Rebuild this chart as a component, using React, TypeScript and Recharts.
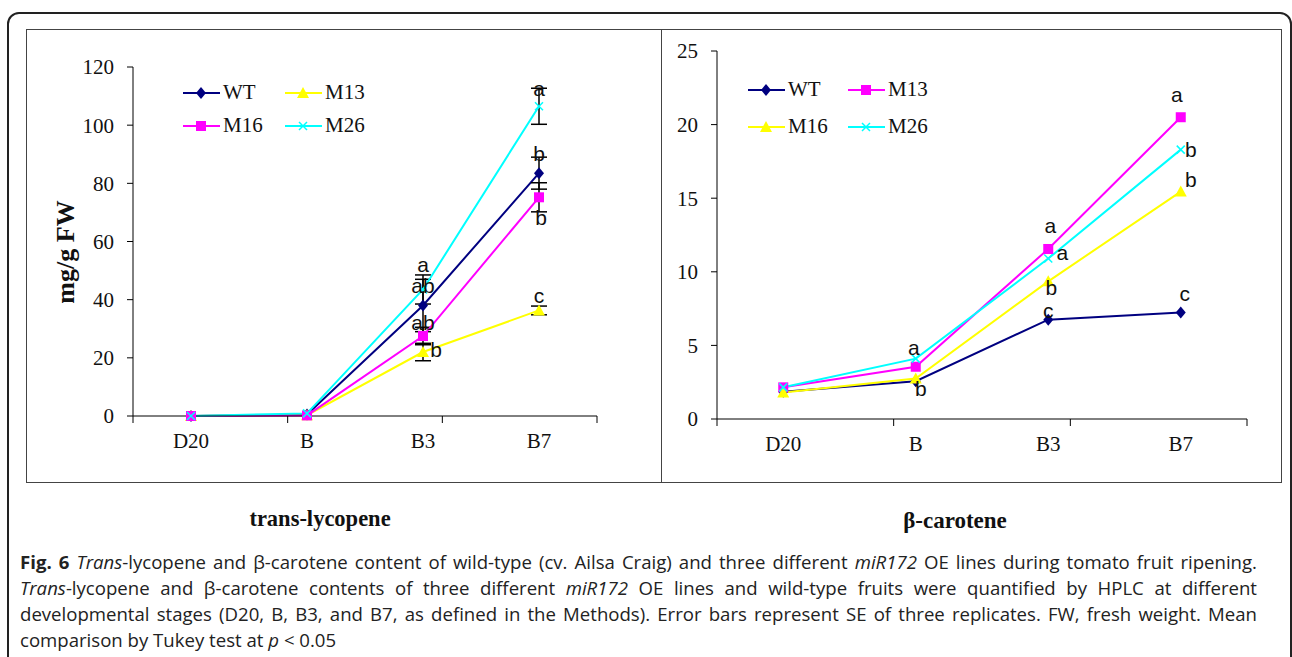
import { ErrorBar, LabelList, Legend, Line, LineChart, XAxis, YAxis } from "recharts";

const STAGES = ["D20", "B", "B3", "B7"];

// trans-lycopene, mg/g FW
const LYC_WT = [0, 0.5, 38, 83.5];
const LYC_M13 = [0, 0.3, 22, 36.3];
const LYC_M16 = [0, 0.2, 27.5, 75.2];
const LYC_M26 = [0, 0.9, 43.5, 106.5];
const LYC_WT_SE = [null, null, 9, 5.5];
const LYC_M13_SE = [null, null, 3, 1.5];
const LYC_M16_SE = [null, null, 3, 5];
const LYC_M26_SE = [null, null, 5, 6.2];
const LYC_WT_LETTERS = ["", "", "ab", "b"];
const LYC_M13_LETTERS = ["", "", "b", "c"];
const LYC_M16_LETTERS = ["", "", "ab", "b"];
const LYC_M26_LETTERS = ["", "", "a", "a"];
const LYC_TICKS = [0, 20, 40, 60, 80, 100, 120];

// beta-carotene
const CAR_WT = [1.85, 2.57, 6.75, 7.23];
const CAR_M13 = [2.15, 3.55, 11.55, 20.5];
const CAR_M16 = [1.8, 2.75, 9.35, 15.45];
const CAR_M26 = [2.15, 4.1, 10.9, 18.3];
const CAR_WT_LETTERS = ["", "b", "c", "c"];
const CAR_M13_LETTERS = ["", "", "a", "a"];
const CAR_M16_LETTERS = ["", "", "b", "b"];
const CAR_M26_LETTERS = ["", "a", "a", "b"];
const CAR_TICKS = [0, 5, 10, 15, 20, 25];

const NAVY = "#000080";
const MAGENTA = "#ff00ff";
const YELLOW = "#ffff00";
const CYAN = "#00ffff";
const SERIF = "'Liberation Serif', 'Times New Roman', serif";
const SANS = "'Liberation Sans', Arial, sans-serif";

type Shape = "diamond" | "square" | "triangle" | "cross";
type Series = {
  key: string;
  name: string;
  color: string;
  shape: Shape;
  values: number[];
  se?: (number | null)[];
  letters: string[];
  // where each letter sits relative to its point: [dx, dy]
  place: [number, number][];
};

const LYC_SERIES: Series[] = [
  { key: "WT", name: "WT", color: NAVY, shape: "diamond", values: LYC_WT, se: LYC_WT_SE, letters: LYC_WT_LETTERS,
    place: [[0, 0], [0, 0], [0, -20], [0, -20]] },
  { key: "M13", name: "M13", color: YELLOW, shape: "triangle", values: LYC_M13, se: LYC_M13_SE, letters: LYC_M13_LETTERS,
    place: [[0, 0], [0, 0], [13, -3], [0, -15]] },
  { key: "M16", name: "M16", color: MAGENTA, shape: "square", values: LYC_M16, se: LYC_M16_SE, letters: LYC_M16_LETTERS,
    place: [[0, 0], [0, 0], [0, -14], [2, 20]] },
  { key: "M26", name: "M26", color: CYAN, shape: "cross", values: LYC_M26, se: LYC_M26_SE, letters: LYC_M26_LETTERS,
    place: [[0, 0], [0, 0], [0, -25], [0, -18]] },
];

const CAR_SERIES: Series[] = [
  { key: "WT", name: "WT", color: NAVY, shape: "diamond", values: CAR_WT, letters: CAR_WT_LETTERS,
    place: [[0, 0], [5, 7], [0, -9], [4, -19]] },
  { key: "M13", name: "M13", color: MAGENTA, shape: "square", values: CAR_M13, letters: CAR_M13_LETTERS,
    place: [[0, 0], [0, 0], [2, -23], [-4, -23]] },
  { key: "M16", name: "M16", color: YELLOW, shape: "triangle", values: CAR_M16, letters: CAR_M16_LETTERS,
    place: [[0, 0], [0, 0], [3, 6], [10, -12]] },
  { key: "M26", name: "M26", color: CYAN, shape: "cross", values: CAR_M26, letters: CAR_M26_LETTERS,
    place: [[0, 0], [-2, -11], [14, -6], [10, 0]] },
];

const CAPTION_STYLE = {
  fontFamily: "'Open Sans', sans-serif",
  fontSize: 18.6,
  lineHeight: "26px",
  color: "#222",
  whiteSpace: "nowrap" as const,
};
const JUSTIFIED = { textAlign: "justify" as const, textAlignLast: "justify" as const, whiteSpace: "normal" as const };

function Marker({ cx, cy, shape, color }: { cx?: number; cy?: number; shape: Shape; color: string }) {
  if (cx == null || cy == null) return null;
  if (shape === "diamond")
    return <polygon points={`${cx},${cy - 6} ${cx + 5},${cy} ${cx},${cy + 6} ${cx - 5},${cy}`} fill={color} />;
  if (shape === "square") return <rect x={cx - 5} y={cy - 5} width={10} height={10} fill={color} />;
  if (shape === "triangle")
    return <polygon points={`${cx},${cy - 6} ${cx + 6},${cy + 5} ${cx - 6},${cy + 5}`} fill={color} />;
  return (
    <path
      d={`M${cx - 4},${cy - 4}L${cx + 4},${cy + 4}M${cx + 4},${cy - 4}L${cx - 4},${cy + 4}`}
      stroke={color}
      strokeWidth={1.5}
    />
  );
}

function LegendGrid({ series, colW, rowH }: { series: Series[]; colW: number; rowH: number }) {
  return (
    <div style={{ display: "grid", gridTemplateColumns: `${colW}px ${colW}px` }}>
      {series.map((s) => (
        <div key={s.key} style={{ display: "flex", alignItems: "center", height: rowH }}>
          <svg width={37} height={16}>
            <line x1={0} y1={8} x2={37} y2={8} stroke={s.color} strokeWidth={2} />
            <Marker cx={18} cy={8} shape={s.shape} color={s.color} />
          </svg>
          <span style={{ fontFamily: SERIF, fontSize: 21, color: "#111", marginLeft: 3 }}>{s.name}</span>
        </div>
      ))}
    </div>
  );
}

type PanelProps = {
  series: Series[];
  ticks: number[];
  width: number;
  height: number;
  margin: { top: number; right: number; left: number; bottom: number };
  yWidth: number;
  legend: { left: number; top: number; colW: number; rowH: number };
};

function Panel({ series, ticks, width, height, margin, yWidth, legend }: PanelProps) {
  const data = STAGES.map((stage, i) => {
    const row: Record<string, string | number | null> = { stage };
    series.forEach((s) => {
      row[s.key] = s.values[i];
      if (s.se) row[s.key + "_se"] = s.se[i];
    });
    return row;
  });

  return (
    <LineChart width={width} height={height} data={data} margin={margin}>
      {/* tick marks on the category boundaries, as in Excel */}
      <XAxis
        xAxisId={0}
        type="number"
        domain={[0, STAGES.length]}
        ticks={STAGES.map((_, i) => i).concat(STAGES.length)}
        tickFormatter={() => ""}
        tickSize={7}
        height={8}
        stroke="#000"
      />
      <XAxis
        xAxisId={1}
        dataKey="stage"
        scale="band"
        axisLine={false}
        tickLine={false}
        height={30}
        tickMargin={3}
        tick={{ fontFamily: SERIF, fontSize: 21, fill: "#111" }}
      />
      <YAxis
        domain={[ticks[0], ticks[ticks.length - 1]]}
        ticks={ticks}
        interval={0}
        width={yWidth}
        tickSize={6}
        tickMargin={13}
        stroke="#000"
        tick={{ fontFamily: SERIF, fontSize: 21, fill: "#111" }}
      />
      <Legend
        layout="horizontal"
        verticalAlign="middle"
        align="center"
        wrapperStyle={{ left: legend.left, top: legend.top, width: legend.colW * 2 }}
        content={() => <LegendGrid series={series} colW={legend.colW} rowH={legend.rowH} />}
      />
      {series.map((s) => (
        <Line
          key={s.key}
          xAxisId={1}
          dataKey={s.key}
          name={s.name}
          stroke={s.color}
          strokeWidth={2}
          isAnimationActive={false}
          activeDot={false}
          dot={(p: { cx?: number; cy?: number; index?: number }) => (
            <Marker key={`${s.key}-${p.index}`} cx={p.cx} cy={p.cy} shape={s.shape} color={s.color} />
          )}
        >
          {s.se && <ErrorBar dataKey={s.key + "_se"} width={8} stroke="#000" strokeWidth={1.5} direction="y" />}
          <LabelList
            content={(p: { x?: number | string; y?: number | string; index?: number }) => {
              const i = p.index ?? 0;
              const txt = s.letters[i];
              if (!txt) return null;
              const [dx, dy] = s.place[i];
              return (
                <text
                  x={Number(p.x) + dx}
                  y={Number(p.y) + dy}
                  textAnchor="middle"
                  dominantBaseline="central"
                  fontFamily={SANS}
                  fontSize={21}
                  fill="#111"
                >
                  {txt}
                </text>
              );
            }}
          />
        </Line>
      ))}
    </LineChart>
  );
}

export default function App() {
  return (
    <div style={{ position: "absolute", left: 0, top: 0, width: 1292, height: 657, background: "#fff", overflow: "hidden" }}>
      {/* outer frame + chart box */}
      <div style={{ position: "absolute", left: 7, top: 12, width: 1281, height: 660, border: "2px solid #222", borderRadius: 12 }} />
      <div style={{ position: "absolute", left: 26, top: 29, width: 1254, height: 452, border: "1px solid #444" }} />
      <div style={{ position: "absolute", left: 661, top: 29, width: 1, height: 453, background: "#444" }} />

      <div style={{ position: "absolute", left: 0, top: 0 }}>
        <Panel
          series={LYC_SERIES}
          ticks={LYC_TICKS}
          width={661}
          height={482}
          margin={{ top: 67, right: 64, left: 73, bottom: 28 }}
          yWidth={60}
          legend={{ left: 183, top: 76, colW: 102, rowH: 33 }}
        />
      </div>
      <div style={{ position: "absolute", left: 661, top: 0 }}>
        <Panel
          series={CAR_SERIES}
          ticks={CAR_TICKS}
          width={620}
          height={482}
          margin={{ top: 51, right: 34, left: 6, bottom: 25 }}
          yWidth={50}
          legend={{ left: 87, top: 71, colW: 100, rowH: 37 }}
        />
      </div>

      <div
        style={{
          position: "absolute",
          left: 66,
          top: 252,
          transform: "translate(-50%, -50%) rotate(-90deg)",
          fontFamily: SERIF,
          fontWeight: "bold",
          fontSize: 26,
          color: "#111",
          whiteSpace: "nowrap",
        }}
      >
        mg/g FW
      </div>
      <div style={{ position: "absolute", left: 320, top: 519, transform: "translate(-50%, -50%)", fontFamily: SERIF, fontWeight: "bold", fontSize: 22.5, color: "#111", whiteSpace: "nowrap" }}>
        trans-lycopene
      </div>
      <div style={{ position: "absolute", left: 955, top: 521, transform: "translate(-50%, -50%)", fontFamily: SERIF, fontWeight: "bold", fontSize: 23, color: "#111", whiteSpace: "nowrap" }}>
        β-carotene
      </div>

      <div style={{ position: "absolute", left: 20, top: 549, width: 1237, ...CAPTION_STYLE }}>
        <div style={JUSTIFIED}>
          <b>Fig. 6</b> <i>Trans</i>-lycopene and β-carotene content of wild-type (cv. Ailsa Craig) and three different <i>miR172</i> OE lines during tomato fruit ripening.
        </div>
        <div style={JUSTIFIED}>
          <i>Trans</i>-lycopene and β-carotene contents of three different <i>miR172</i> OE lines and wild-type fruits were quantified by HPLC at different
        </div>
        <div style={JUSTIFIED}>
          developmental stages (D20, B, B3, and B7, as defined in the Methods). Error bars represent SE of three replicates. FW, fresh weight. Mean
        </div>
        <div>
          comparison by Tukey test at <i>p</i> &lt; 0.05
        </div>
      </div>
    </div>
  );
}
